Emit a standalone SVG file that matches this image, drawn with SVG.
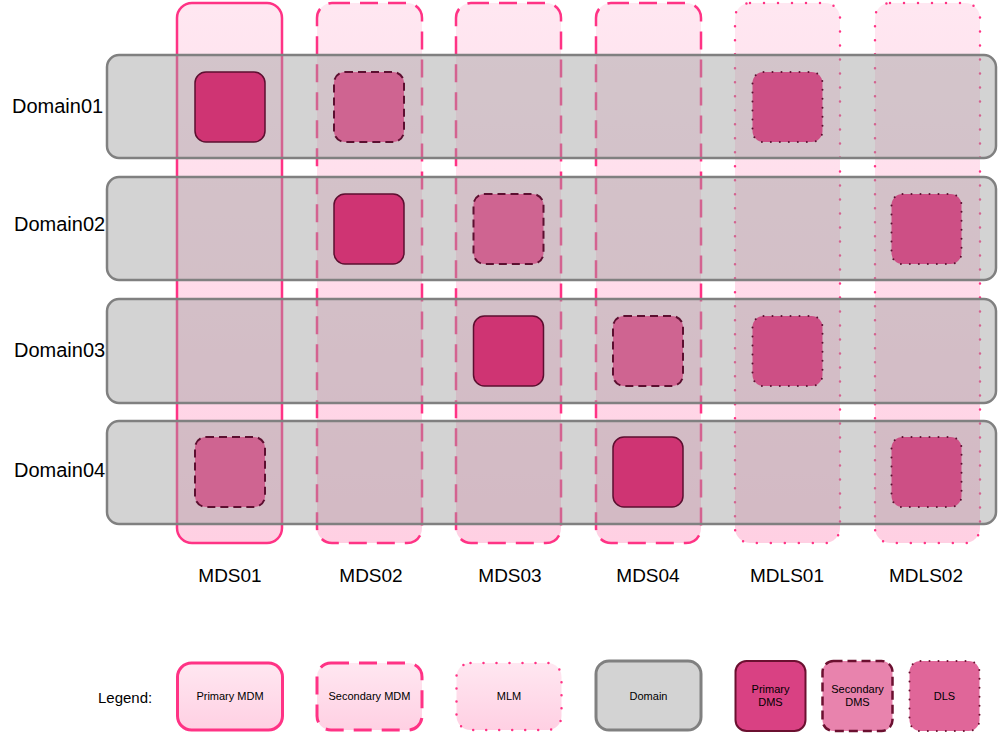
<svg xmlns="http://www.w3.org/2000/svg" width="999" height="733" viewBox="0 0 999 733">
<defs>
<linearGradient id="pk" x1="0" y1="0" x2="0" y2="1">
<stop offset="0" stop-color="#ffe7f1"/>
<stop offset="1" stop-color="#ffd0e3"/>
</linearGradient>
<style>
.col{fill:url(#pk);stroke:#ff3385;stroke-width:2.5}
.pri{}
.sec{stroke-dasharray:18 10}
.mlm{stroke-dasharray:0 14;stroke-linecap:round}
.dom{fill:#9e9e9e;fill-opacity:0.45;stroke:#808080;stroke-width:2.5}
.pdms{fill:#cf3473;stroke:#5c0f30;stroke-width:1.5}
.sdms{fill:#cf6491;stroke:#5c0f30;stroke-width:2;stroke-dasharray:8 5}
.dls{fill:#cd4f85;stroke:#5c0f30;stroke-width:2;stroke-dasharray:0 9;stroke-linecap:round}
.lab{font-family:"Liberation Sans",Arial,sans-serif;font-size:19px;fill:#000}
.dlab{font-family:"Liberation Sans",Arial,sans-serif;font-size:20px;fill:#000}
.lg{font-family:"Liberation Sans",Arial,sans-serif;font-size:11px;fill:#000;text-anchor:middle}
</style>
</defs>
<rect width="999" height="733" fill="#fff"/>
<g id="columns">
<g id="MDS01"><rect class="col pri" x="177" y="3" width="105" height="540" rx="15"/></g>
<g id="MDS02"><rect class="col sec" x="317" y="3" width="105" height="540" rx="15"/></g>
<g id="MDS03"><rect class="col sec" x="456" y="3" width="105" height="540" rx="15"/></g>
<g id="MDS04"><rect class="col sec" x="596" y="3" width="105" height="540" rx="15"/></g>
<g id="MDLS01"><rect class="col mlm" x="735" y="3" width="105" height="540" rx="15"/></g>
<g id="MDLS02"><rect class="col mlm" x="875" y="3" width="105" height="540" rx="15"/></g>
</g>
<g id="domains">
<g id="Domain01"><rect class="dom" x="107" y="55" width="889" height="103" rx="12"/></g>
<g id="Domain02"><rect class="dom" x="107" y="177" width="889" height="103" rx="12"/></g>
<g id="Domain03"><rect class="dom" x="107" y="299" width="889" height="104" rx="12"/></g>
<g id="Domain04"><rect class="dom" x="107" y="421" width="889" height="103" rx="12"/></g>
</g>
<g id="dms">
<g id="d1-pri"><rect class="pdms" x="195" y="72" width="70" height="70" rx="11"/></g>
<g id="d1-sec"><rect class="sdms" x="334" y="72" width="70" height="70" rx="11"/></g>
<g id="d1-dls"><rect class="dls" x="752.5" y="72" width="70" height="70" rx="11"/></g>
<g id="d2-pri"><rect class="pdms" x="334" y="194" width="70" height="70" rx="11"/></g>
<g id="d2-sec"><rect class="sdms" x="473.5" y="194" width="70" height="70" rx="11"/></g>
<g id="d2-dls"><rect class="dls" x="891.5" y="194" width="70" height="70" rx="11"/></g>
<g id="d3-pri"><rect class="pdms" x="473.5" y="316" width="70" height="70" rx="11"/></g>
<g id="d3-sec"><rect class="sdms" x="613" y="316" width="70" height="70" rx="11"/></g>
<g id="d3-dls"><rect class="dls" x="752.5" y="316" width="70" height="70" rx="11"/></g>
<g id="d4-sec"><rect class="sdms" x="195" y="437" width="70" height="70" rx="11"/></g>
<g id="d4-pri"><rect class="pdms" x="613" y="437" width="70" height="70" rx="11"/></g>
<g id="d4-dls"><rect class="dls" x="891.5" y="437" width="70" height="70" rx="11"/></g>
</g>
<g id="connectors"/>
<g id="labels">
<text class="dlab" x="12" y="113">Domain01</text>
<text class="dlab" x="14" y="231">Domain02</text>
<text class="dlab" x="14" y="357">Domain03</text>
<text class="dlab" x="14" y="477">Domain04</text>
<g text-anchor="middle">
<text class="lab" x="230" y="582">MDS01</text>
<text class="lab" x="371" y="582">MDS02</text>
<text class="lab" x="510" y="582">MDS03</text>
<text class="lab" x="648" y="582">MDS04</text>
<text class="lab" x="787" y="582">MDLS01</text>
<text class="lab" x="926" y="582">MDLS02</text>
</g>
</g>
<g id="legend">
<text x="98" y="703" font-family="'Liberation Sans',Arial,sans-serif" font-size="15">Legend:</text>
<g id="lg-pmdm"><rect x="177.5" y="663" width="105" height="67" rx="14" fill="url(#pk)" stroke="#ff3385" stroke-width="3"/><text class="lg" x="230" y="700">Primary MDM</text></g>
<g id="lg-smdm"><rect x="317" y="663" width="105" height="67" rx="14" fill="url(#pk)" stroke="#ff3385" stroke-width="3" stroke-dasharray="18 10"/><text class="lg" x="369.5" y="700">Secondary MDM</text></g>
<g id="lg-mlm"><rect x="456.5" y="663" width="105" height="67" rx="14" fill="url(#pk)" stroke="#ff3385" stroke-width="2.5" stroke-dasharray="0 13" stroke-linecap="round"/><text class="lg" x="509" y="700">MLM</text></g>
<g id="lg-domain"><rect x="596" y="661" width="105" height="69" rx="13" fill="#d3d3d3" stroke="#808080" stroke-width="3"/><text class="lg" x="648.5" y="700">Domain</text></g>
<g id="lg-pdms"><rect x="735.5" y="661" width="70" height="70" rx="11" fill="#d94183" stroke="#6b1030" stroke-width="2"/><text class="lg" x="770.5" y="693">Primary</text><text class="lg" x="770.5" y="706">DMS</text></g>
<g id="lg-sdms"><rect x="822.5" y="661" width="70" height="70" rx="11" fill="#e883ad" stroke="#6b1030" stroke-width="2.5" stroke-dasharray="9 5"/><text class="lg" x="857.5" y="693">Secondary</text><text class="lg" x="857.5" y="706">DMS</text></g>
<g id="lg-dls"><rect x="909.5" y="661" width="70" height="70" rx="11" fill="#e06699" stroke="#6b1030" stroke-width="2" stroke-dasharray="0 9" stroke-linecap="round"/><text class="lg" x="944.5" y="700">DLS</text></g>
</g>
</svg>
